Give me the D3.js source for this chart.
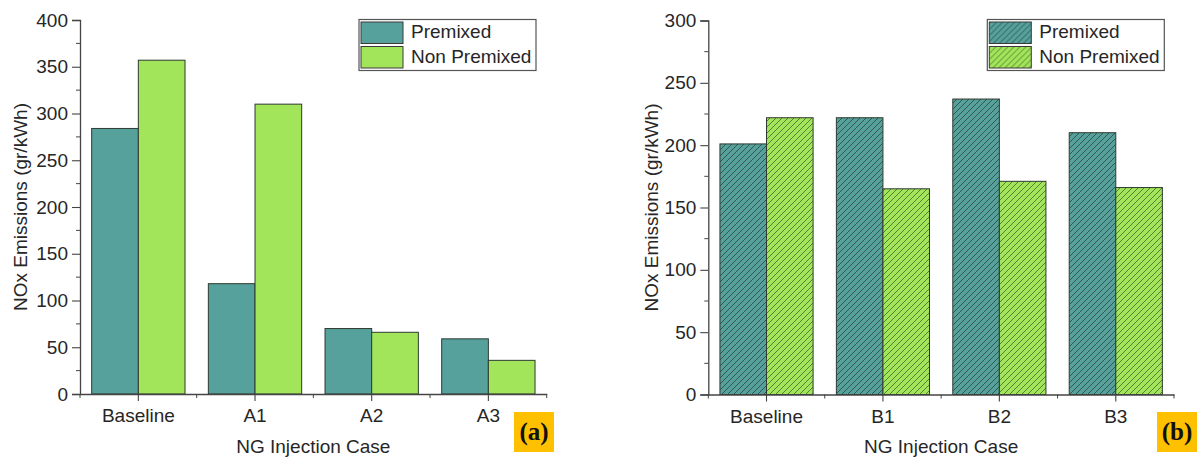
<!DOCTYPE html>
<html>
<head>
<meta charset="utf-8">
<script src="https://cdn.jsdelivr.net/npm/d3@7"></script>
<style>
  body { margin: 0; background: #fff; }
  text { font-family: "Liberation Sans", Arial, sans-serif; fill: #262626; }
  text.tag { font-family: "Liberation Serif", "Times New Roman", serif; font-weight: bold; fill: #111; }
</style>
</head>
<body>
<svg id="chart" width="1198" height="459"></svg>
<script>
const seriesNames = ["Premixed", "Non Premixed"];

// panel (a)
const casesA = ["Baseline", "A1", "A2", "A3"];
const premixedA = [284, 118, 70, 59];
const nonPremixedA = [357, 310, 66, 36];

// panel (b)
const casesB = ["Baseline", "B1", "B2", "B3"];
const premixedB = [201, 222, 237, 210];
const nonPremixedB = [222, 165, 171, 166];

const yMaxA = 400, yMaxB = 300;
const colors = ["#56a19c", "#a2e55a"];

const svg = d3.select("#chart");

// hatch patterns for panel (b)
const defs = svg.append("defs");
colors.forEach((c, i) => {
  const p = defs.append("pattern")
      .attr("id", "hatch" + i)
      .attr("patternUnits", "userSpaceOnUse")
      .attr("width", 6).attr("height", 6);
  p.append("rect").attr("width", 6).attr("height", 6).attr("fill", c);
  p.append("path")
      .attr("d", "M-1,7 L7,-1 M-4,4 L4,-4 M2,10 L10,2")
      .attr("stroke", i == 0 ? "#22403a" : "#3b6322")
      .attr("stroke-width", 0.9)
      .attr("stroke-opacity", 0.85);
});

function panel(opt) {
  const g = svg.append("g");
  const x = d3.scaleBand().domain(opt.cases).range([opt.left, opt.right]).paddingInner(0).paddingOuter(0);
  const inner = d3.scaleBand().domain([0, 1]).range([0, x.bandwidth()]).paddingOuter(0.25).paddingInner(0);
  const y = d3.scaleLinear().domain([0, opt.yMax]).range([opt.bottom, opt.top]);

  const fills = opt.hatch ? ["url(#hatch0)", "url(#hatch1)"] : colors;

  [opt.s1, opt.s2].forEach((vals, si) => {
    g.selectAll(null).data(vals).join("rect")
      .attr("x", (d, i) => x(opt.cases[i]) + inner(si))
      .attr("y", d => y(d))
      .attr("width", inner.bandwidth())
      .attr("height", d => y(0) - y(d))
      .attr("fill", fills[si])
      .attr("stroke", "#2e3a30")
      .attr("stroke-width", 1);
  });

  // y axis: major + minor ticks
  const yAx = g.append("g").attr("transform", `translate(${opt.left},0)`)
    .call(d3.axisLeft(y).tickValues(d3.range(0, opt.yMax + 1, 50)).tickSize(8).tickPadding(4));
  yAx.append("g").selectAll("line").data(d3.range(25, opt.yMax, 50)).join("line")
    .attr("x1", 0).attr("x2", -4).attr("y1", d => y(d)).attr("y2", d => y(d))
    .attr("stroke", "#444");

  // x axis
  const xAx = g.append("g").attr("transform", `translate(0,${opt.bottom})`)
    .call(d3.axisBottom(x).tickSize(7).tickPadding(8).tickSizeOuter(0));
  xAx.append("g").selectAll("line").data(d3.range(opt.cases.length + 1)).join("line")
    .attr("x1", d => opt.left + d * x.step()).attr("x2", d => opt.left + d * x.step())
    .attr("y1", 0).attr("y2", 4).attr("stroke", "#444");

  [yAx, xAx].forEach(a => {
    a.selectAll(".domain").attr("stroke", "#444").attr("stroke-width", 1.3);
    a.selectAll(".tick line").attr("stroke", "#444").attr("stroke-width", 1.1);
    a.selectAll("text").attr("font-size", 19).attr("fill", "#262626");
  });

  // axis titles
  g.append("text")
    .attr("transform", `translate(${opt.yTitleX},${(opt.top + opt.bottom) / 2}) rotate(-90)`)
    .attr("text-anchor", "middle").attr("dy", "0.35em")
    .attr("font-size", 19).text("NOx Emissions (gr/kWh)");
  g.append("text")
    .attr("x", (opt.left + opt.right) / 2).attr("y", 453)
    .attr("text-anchor", "middle").attr("font-size", 19)
    .text("NG Injection Case");

  // legend
  const lg = g.append("g").attr("transform", `translate(${opt.legX},19.5)`);
  lg.append("rect").attr("width", 177).attr("height", 51)
    .attr("fill", "#fff").attr("stroke", "#555").attr("stroke-width", 1.2);
  seriesNames.forEach((n, i) => {
    lg.append("rect").attr("x", 2).attr("y", 2.5 + i * 24.5)
      .attr("width", 42).attr("height", 21.5)
      .attr("fill", fills[i]).attr("stroke", "#3a3a3a").attr("stroke-width", 1);
    lg.append("text").attr("x", 52).attr("y", 18.5 + i * 24.5)
      .attr("font-size", 19).text(n);
  });

  // panel tag
  const tg = g.append("g").attr("transform", `translate(${opt.tagX},412)`);
  tg.append("rect").attr("width", 40).attr("height", 40).attr("fill", "#ffc000");
  tg.append("text").attr("class", "tag").attr("x", 20).attr("y", 28).attr("text-anchor", "middle")
    .attr("font-size", 25).text(opt.tag);
}

panel({cases: casesA, s1: premixedA, s2: nonPremixedA, yMax: yMaxA,
  left: 80, right: 546.7, top: 20, bottom: 394, yTitleX: 20,
  legX: 359, tagX: 514, tag: "(a)", hatch: false});

panel({cases: casesB, s1: premixedB, s2: nonPremixedB, yMax: yMaxB,
  left: 708.3, right: 1174, top: 20.5, bottom: 394.5, yTitleX: 651,
  legX: 987.3, tagX: 1157, tag: "(b)", hatch: true});
</script>
</body>
</html>
